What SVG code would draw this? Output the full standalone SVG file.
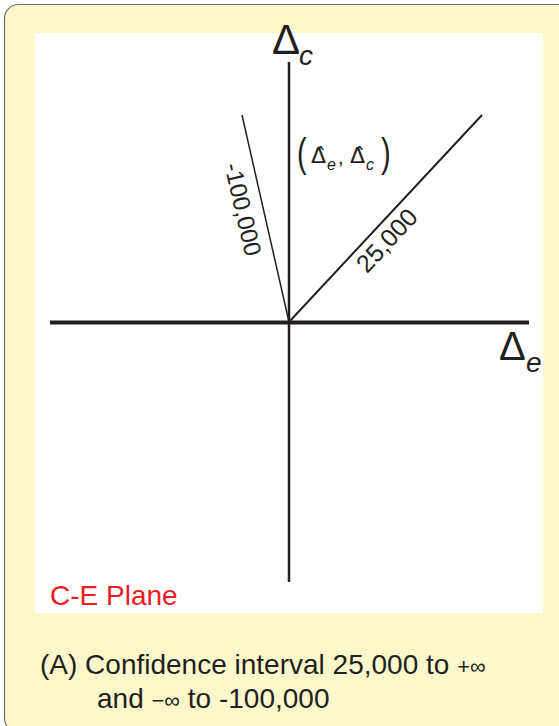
<svg xmlns="http://www.w3.org/2000/svg" width="559" height="726" viewBox="0 0 559 726">
<style>
.t{font-family:"Liberation Sans",Arial,sans-serif;fill:#231f20}
.ax{stroke:#231f20;fill:none}
.h{font-family:"DejaVu Sans",sans-serif;font-size:22px;fill:#231f20}
</style>
<rect x="4.5" y="4.5" width="570" height="728" rx="14" fill="#fdf8cc" stroke="#6d6e71" stroke-width="1.2"/>
<rect x="35" y="33" width="508" height="580" fill="#ffffff"/>
<g id="axes">
<line class="ax" x1="289" y1="62" x2="289" y2="582" stroke-width="2.5"/>
<line class="ax" x1="50" y1="322.5" x2="529" y2="322.5" stroke-width="4"/>
</g>
<g id="connectors">
<line class="ax" x1="289" y1="322" x2="242" y2="115" stroke-width="1.5"/>
<line class="ax" x1="289" y1="322" x2="482" y2="115" stroke-width="2"/>
</g>
<g id="labels">
<g id="axis-c">
<text class="t" x="272" y="54" font-size="42">Δ</text>
<text class="t" x="299" y="65" font-size="28" font-style="italic">c</text>
</g>
<g id="axis-e">
<text class="t" x="499" y="360" font-size="40">Δ</text>
<text class="t" x="526" y="372" font-size="28" font-style="italic">e</text>
</g>
<text class="t" font-size="24" transform="translate(243.3,209.2) rotate(77)" text-anchor="middle" dy="8.6">-100,000</text>
<text class="t" font-size="25" transform="translate(386.6,240.1) rotate(-47)" text-anchor="middle" dy="9">25,000</text>
<g id="estimate">
<text class="t" font-size="29" transform="translate(297,167) scale(1,1.4)">(</text>
<text class="h" x="311" y="163">Δ̂</text>
<text class="t" x="327" y="170" font-size="16" font-style="italic">e</text>
<text class="t" x="338" y="164" font-size="20">,</text>
<text class="h" x="350" y="163">Δ̂</text>
<text class="t" x="366" y="170" font-size="16" font-style="italic">c</text>
<text class="t" font-size="29" transform="translate(381,167) scale(1,1.4)">)</text>
</g>
<text x="50" y="605" font-size="28" font-family="Liberation Sans,Arial,sans-serif" fill="#ed1c24">C-E Plane</text>
<text class="t" x="40" y="674" font-size="28">(A) Confidence interval 25,000 to <tspan font-size="22">+∞</tspan></text>
<text class="t" x="97" y="708" font-size="28">and <tspan font-size="22">−∞</tspan> to -100,000</text>
</g>
</svg>
